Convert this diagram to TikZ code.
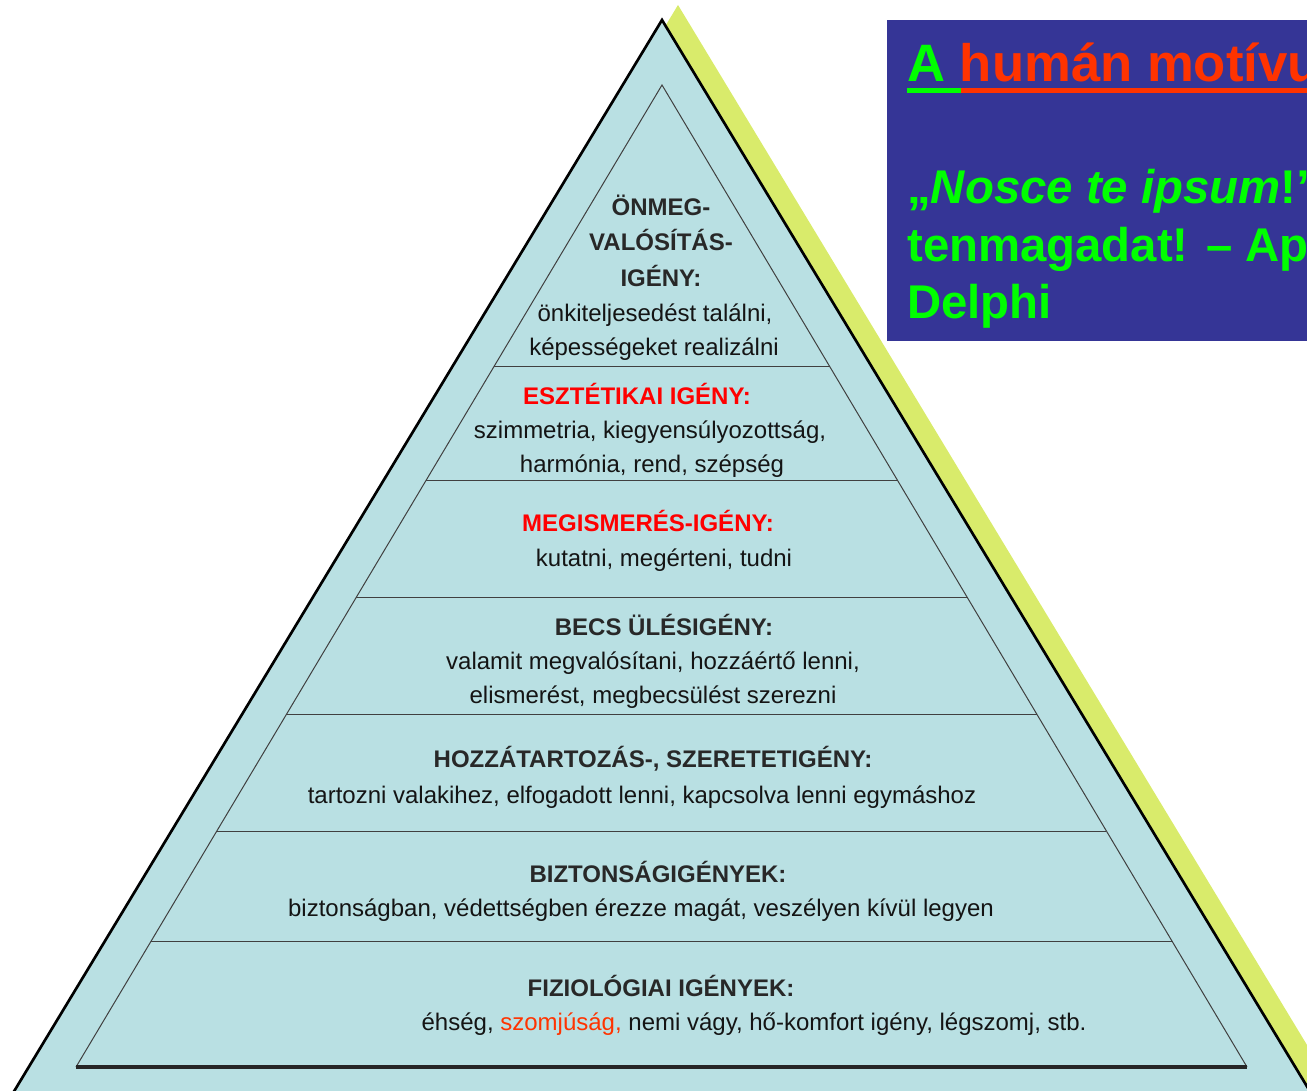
\documentclass[tikz,border=0pt]{standalone}
\usepackage{fontspec}
\setmainfont{Liberation Sans}
\usetikzlibrary{calc}
\definecolor{pyr}{RGB}{185,224,227}
\definecolor{shadowc}{RGB}{217,235,107}
\definecolor{titlebg}{RGB}{53,53,150}
\definecolor{lgreen}{RGB}{0,255,0}
\definecolor{ored}{RGB}{255,51,0}
\definecolor{hdr}{RGB}{40,40,40}
\definecolor{bodyc}{RGB}{20,20,20}
\begin{document}
\begin{tikzpicture}[x=0.75pt,y=-0.75pt,
  hd/.style={anchor=base,inner sep=0pt,font=\bfseries\fontsize{18}{20}\selectfont,text=hdr},
  hdred/.style={hd,text=red},
  bd/.style={anchor=base,inner sep=0pt,font=\fontsize{18}{20}\selectfont,text=bodyc},
  sepline/.style={draw=black!75,line width=0.75pt},
  innerline/.style={draw=black!75,line width=0.75pt},
  quote/.style={anchor=base west,inner sep=0pt,font=\bfseries\fontsize{35.5}{40}\selectfont,text=lgreen}]
\useasboundingbox (0,0) rectangle (1307,1091);
\clip (0,0) rectangle (1307,1091);
% shadow
\fill[shadowc] (678,5) -- (1356,1126) -- (0,1126) -- cycle;
% main pyramid
\filldraw[fill=pyr,draw=black,line width=2pt,line join=miter] (662,20) -- (1340,1141) -- (-16,1141) -- cycle;
% inner triangle
\coordinate (A) at (662,85);
\coordinate (BL) at (76,1067);
\coordinate (BR) at (1247,1067);
\draw[innerline] (BL) -- (A) -- (BR);
\draw[draw=black!85,line width=2.4pt] (BL) -- (BR);
\foreach \yy in {367,481,598,715,831,942}
  \draw[sepline] ($(A)!{(\yy-85)/982}!(BL)$) -- ($(A)!{(\yy-85)/982}!(BR)$);
% title box
\fill[titlebg] (887,20) rectangle (1320,341);
\node[anchor=base west,inner sep=0pt,font=\bfseries\fontsize{39.5}{46}\selectfont] (title) at (907,82)
  {\textcolor{lgreen}{A }\textcolor{ored}{humán motívu}};
\fill[lgreen] (907,88) rectangle (961,93);
\fill[ored] (961,88) rectangle (1320,93);
\node[quote] (q1) at (907,204) {„\textit{Nosce te ipsum}!”};
\node[quote] (q2) at (907,262) {tenmagadat! – Ap};
\node[quote] (q3) at (907,319) {Delphi};
% texts
\node[hd] (t1) at (661,216) {ÖNMEG-};
\node[hd] (t2) at (661,251) {VALÓSÍTÁS-};
\node[hd] (t3) at (661,287) {IGÉNY:};
\node[bd] (t4) at (655,322) {önkiteljesedést találni,};
\node[bd] (t5) at (654,356) {képességeket realizálni};
\node[hdred] (e1) at (637,404) {ESZTÉTIKAI IGÉNY:};
\node[bd] (e2) at (650,438) {szimmetria, kiegyensúlyozottság,};
\node[bd] (e3) at (652,472) {harmónia, rend, szépség};
\node[hdred] (m1) at (648,531) {MEGISMERÉS-IGÉNY:};
\node[bd] (m2) at (664,566) {kutatni, megérteni, tudni};
\node[hd] (b1) at (664,635) {BECS ÜLÉSIGÉNY:};
\node[bd] (b2) at (653,669) {valamit megvalósítani, hozzáértő lenni,};
\node[bd] (b3) at (653,703) {elismerést, megbecsülést szerezni};
\node[hd] (h1) at (653,767) {HOZZÁTARTOZÁS-, SZERETETIGÉNY:};
\node[bd] (h2) at (642,803) {tartozni valakihez, elfogadott lenni, kapcsolva lenni egymáshoz};
\node[hd] (s1) at (658,882) {BIZTONSÁGIGÉNYEK:};
\node[bd] (s2) at (641,916) {biztonságban, védettségben érezze magát, veszélyen kívül legyen};
\node[hd] (f1) at (661,996) {FIZIOLÓGIAI IGÉNYEK:};
\node[bd] (f2) at (754,1030) {éhség, \textcolor{ored}{szomjúság,} nemi vágy, hő-komfort igény, légszomj, stb.};
\end{tikzpicture}
\end{document}
